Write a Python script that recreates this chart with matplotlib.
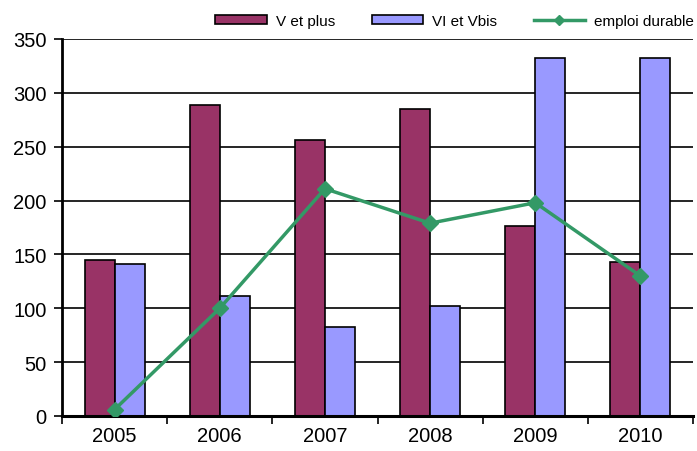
import matplotlib
matplotlib.use("Agg")
import matplotlib.pyplot as plt
import numpy as np

years = ["2005", "2006", "2007", "2008", "2009", "2010"]
v_et_plus = [145, 289, 256, 285, 176, 143]
vi_et_vbis = [141, 111, 83, 102, 332, 332]
emploi_durable = [6, 100, 211, 179, 198, 130]

plt.rcParams['font.family'] = ['Liberation Sans', 'DejaVu Sans']

fig = plt.figure(figsize=(6.97, 4.52), dpi=100)
ax = fig.add_axes([62/697, 1-417/452, 631/697, 377/452])

x = np.arange(len(years))
w = 0.286
b1 = ax.bar(x - w/2, v_et_plus, w, color="#993366", edgecolor="black", linewidth=1.2, label="V et plus", zorder=2)
b2 = ax.bar(x + w/2, vi_et_vbis, w, color="#9999FF", edgecolor="black", linewidth=1.2, label="VI et Vbis", zorder=2)
l1, = ax.plot(x, emploi_durable, color="#339966", linewidth=2.5, marker="D", markersize=8, label="emploi durable", zorder=3)

ax.set_xlim(-0.5, len(years) - 0.5)
ax.set_ylim(0, 350)
ax.set_yticks(range(0, 351, 50))
ax.yaxis.grid(True, color="black", linewidth=1.2, zorder=0)
ax.set_axisbelow(True)

ax.set_xticks(x)
ax.set_xticklabels(years, fontsize=14.5)
ax.tick_params(axis="x", length=0, pad=7)
ax.set_xticks(np.arange(-0.5, len(years), 1.0), minor=True)
ax.tick_params(axis="x", which="minor", length=6, width=1.2, direction="out")
ax.tick_params(axis="y", labelsize=14.5, length=6, width=1.2, direction="out", pad=5)

for s in ["top", "right"]:
    ax.spines[s].set_visible(False)
ax.spines["left"].set_linewidth(2)
ax.spines["bottom"].set_linewidth(2.2)

leg = fig.legend(handles=[b1, b2, l1], labels=["V et plus", "VI et Vbis", "emploi durable"],
                 loc="center right", bbox_to_anchor=(1.0, 1 - 22/452), ncol=3, frameon=False,
                 fontsize=11, handlelength=3.35, handleheight=0.5, columnspacing=2.4, handletextpad=0.6,
                 markerscale=0.6, borderpad=0, borderaxespad=0.2)

fig.savefig("out.png", dpi=100)
